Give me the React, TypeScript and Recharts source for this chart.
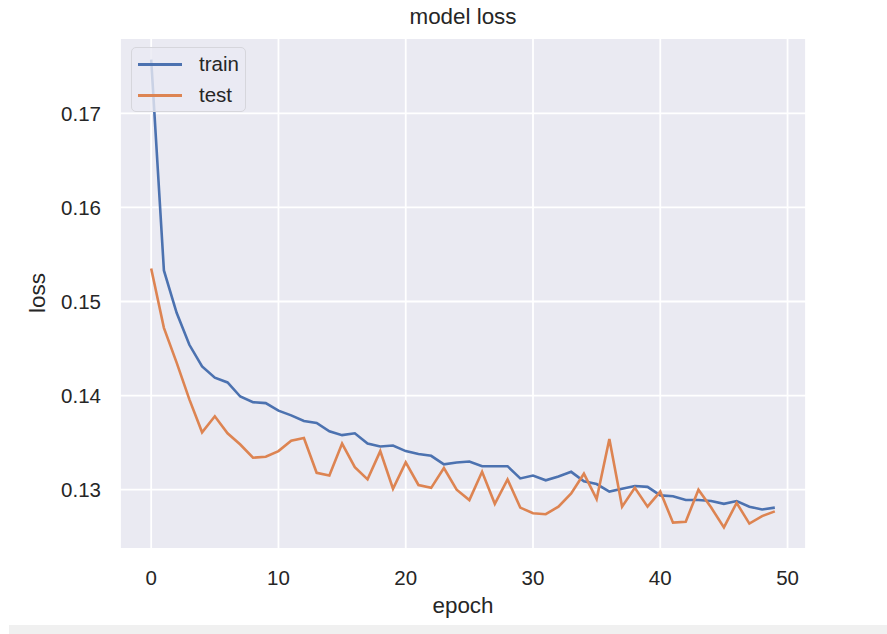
import React from 'react';
import {
  LineChart,
  Line,
  XAxis,
  YAxis,
  CartesianGrid,
} from 'recharts';

// loss per epoch
const trainLoss = [
  0.1757, 0.1533, 0.1488, 0.1454, 0.1431, 0.1419, 0.1414, 0.1399, 0.1393, 0.1392,
  0.1384, 0.1379, 0.1373, 0.1371, 0.1362, 0.1358, 0.1360, 0.1349, 0.1346, 0.1347,
  0.1341, 0.1338, 0.1336, 0.1327, 0.1329, 0.1330, 0.1325, 0.1325, 0.1325, 0.1312,
  0.1315, 0.1310, 0.1314, 0.1319, 0.1309, 0.1306, 0.1298, 0.1301, 0.1304, 0.1303,
  0.1294, 0.1293, 0.1289, 0.1289, 0.1288, 0.1285, 0.1288, 0.1282, 0.1279, 0.1281,
];

const testLoss = [
  0.1535, 0.1472, 0.1435, 0.1396, 0.1361, 0.1378, 0.1360, 0.1348, 0.1334, 0.1335,
  0.1341, 0.1352, 0.1355, 0.1318, 0.1315, 0.1349, 0.1324, 0.1311, 0.1341, 0.1301,
  0.1329, 0.1305, 0.1302, 0.1323, 0.1300, 0.1289, 0.1319, 0.1285, 0.1311, 0.1281,
  0.1275, 0.1274, 0.1282, 0.1296, 0.1317, 0.1290, 0.1354, 0.1282, 0.1302, 0.1282,
  0.1298, 0.1265, 0.1266, 0.1300, 0.1281, 0.1260, 0.1286, 0.1264, 0.1272, 0.1277,
];

const xTicks = [0, 10, 20, 30, 40, 50];
const yTicks = [0.13, 0.14, 0.15, 0.16, 0.17];

const data = trainLoss.map((v, i) => ({ epoch: i, train: v, test: testLoss[i] }));

const FONT = '"Liberation Sans", Arial, sans-serif';
const TEXT = '#262626';
const BLUE = '#4C72B0';
const ORANGE = '#DD8452';

const LegendBox = () => (
  <div
    style={{
      position: 'absolute',
      left: 131,
      top: 47,
      width: 115,
      height: 65,
      boxSizing: 'border-box',
      border: '1px solid #d6d6dc',
      borderRadius: 5,
      background: 'rgba(234,234,242,0.8)',
      fontFamily: FONT,
      fontSize: 20.5,
      color: TEXT,
    }}
  >
    {[
      { name: 'train', color: BLUE, y: 16 },
      { name: 'test', color: ORANGE, y: 47 },
    ].map((it) => (
      <div key={it.name}>
        <div
          style={{
            position: 'absolute',
            left: 6,
            top: it.y - 1,
            width: 44,
            height: 2.5,
            background: it.color,
          }}
        />
        <div style={{ position: 'absolute', left: 67, top: it.y - 12, lineHeight: '24px' }}>
          {it.name}
        </div>
      </div>
    ))}
  </div>
);

export default function App() {
  return (
    <div style={{ position: 'absolute', left: 0, top: 0, width: 887, height: 634, background: '#fff' }}>
      <LineChart
        width={887}
        height={634}
        data={data}
        margin={{ top: 38, right: 81, left: 0, bottom: 0 }}
      >
        <CartesianGrid stroke="#ffffff" strokeWidth={1.8} fill="#EAEAF2" fillOpacity={1} />
        <XAxis
          dataKey="epoch"
          type="number"
          domain={[-2.45, 51.45]}
          allowDataOverflow
          ticks={xTicks}
          interval={0}
          axisLine={false}
          tickLine={false}
          tickSize={0}
          tickMargin={21}
          height={85}
          tick={{ fill: TEXT, fontSize: 20.5, fontFamily: FONT }}
        />
        <YAxis
          type="number"
          domain={[0.1237, 0.178]}
          allowDataOverflow
          ticks={yTicks}
          interval={0}
          axisLine={false}
          tickLine={false}
          tickSize={0}
          tickMargin={19}
          width={120}
          tick={{ fill: TEXT, fontSize: 20.5, fontFamily: FONT }}
        />
        <Line
          type="linear"
          dataKey="train"
          stroke={BLUE}
          strokeWidth={2.6}
          dot={false}
          isAnimationActive={false}
        />
        <Line
          type="linear"
          dataKey="test"
          stroke={ORANGE}
          strokeWidth={2.6}
          dot={false}
          isAnimationActive={false}
        />
      </LineChart>
      <LegendBox />
      <div
        style={{
          position: 'absolute',
          left: 0,
          width: 926,
          top: 4,
          textAlign: 'center',
          fontFamily: FONT,
          fontSize: 22.4,
          color: TEXT,
          lineHeight: '26px',
        }}
      >
        model loss
      </div>
      <div
        style={{
          position: 'absolute',
          left: 0,
          width: 926,
          top: 593,
          textAlign: 'center',
          fontFamily: FONT,
          fontSize: 22.4,
          color: TEXT,
          lineHeight: '26px',
        }}
      >
        epoch
      </div>
      <div
        style={{
          position: 'absolute',
          left: 38,
          top: 293,
          transform: 'translate(-50%, -50%) rotate(-90deg)',
          fontFamily: FONT,
          fontSize: 22.4,
          color: TEXT,
          lineHeight: '26px',
        }}
      >
        loss
      </div>
      <div style={{ position: 'absolute', left: 9, right: 0, top: 625, height: 9, background: '#f0f0f0' }} />
    </div>
  );
}
